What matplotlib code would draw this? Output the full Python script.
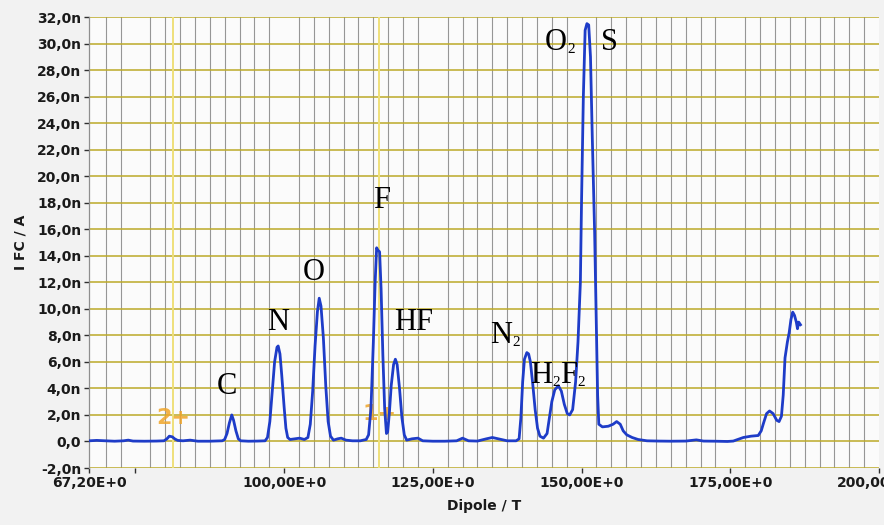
import matplotlib
matplotlib.use("Agg")
import numpy as np
import matplotlib.pyplot as plt

# spectrum (dipole field / T, Faraday cup current / nA)
dipole = [
    67.2, 68.5, 70.0, 71.5, 73.0, 73.8, 74.6, 76.5, 78.5, 79.8, 80.3, 80.7, 81.2, 81.6, 82.1, 83.0, 84.2, 85.5, 87.5, 89.6,
    90.0, 90.4, 90.8, 91.2, 91.5, 91.9, 92.3, 92.7,
    94.0, 95.5, 96.8,
    97.2, 97.6, 98.0, 98.4, 98.8, 99.0, 99.3, 99.6, 100.0, 100.3, 100.6, 101.0,
    101.8, 102.6, 103.4,
    104.0, 104.4, 104.8, 105.2, 105.6, 105.9, 106.2, 106.6, 107.0, 107.4, 107.8, 108.3,
    109.0, 109.6, 110.4, 111.5, 112.8, 113.8,
    114.2, 114.6, 115.0, 115.3, 115.55, 115.8, 116.05, 116.3, 116.6, 116.9, 117.2, 117.4,
    117.7, 118.0, 118.4, 118.7, 119.0, 119.4, 119.8, 120.2, 120.6,
    121.5, 122.5, 123.3, 125.0, 127.0, 129.0, 130.0, 131.0, 132.5, 134.0, 135.0, 136.0, 137.5, 139.0,
    139.5, 139.8, 140.1, 140.4, 140.8, 141.1, 141.4, 141.8, 142.2, 142.6, 143.0, 143.6, 144.2,
    144.6, 145.0, 145.5, 146.1, 146.6, 147.1, 147.6, 148.0, 148.5, 149.0, 149.4, 149.8,
    150.0, 150.3, 150.6, 150.9, 151.2, 151.5, 151.8, 152.2, 152.5, 152.7, 152.9,
    153.5, 154.5, 155.3, 155.9, 156.5, 157.0, 157.6, 158.5, 159.5, 161.0, 163.0, 165.0, 167.5, 169.3, 170.5,
    172.5, 174.5, 175.5, 177.2, 178.5, 179.7,
    180.2, 180.6, 181.1, 181.6, 182.2, 182.8, 183.2, 183.6, 183.9, 184.2, 184.6, 184.9, 185.2, 185.5, 185.8,
    186.1, 186.3, 186.5, 186.8,
]
current = [
    0.05, 0.08, 0.05, 0.02, 0.05, 0.1, 0.03, 0.02, 0.03, 0.05, 0.2, 0.4, 0.35, 0.2, 0.08, 0.05, 0.1, 0.02, 0.02, 0.05,
    0.15, 0.6, 1.4, 2.0, 1.6, 0.8, 0.2, 0.05,
    0.02, 0.03, 0.05,
    0.3, 1.5, 3.8, 6.0, 7.1, 7.2, 6.6, 5.0, 2.6, 1.0, 0.3, 0.15,
    0.2, 0.25, 0.15,
    0.3, 1.3, 3.8, 7.2, 9.8, 10.8, 10.2, 7.8, 4.2, 1.5, 0.4, 0.1,
    0.2, 0.25, 0.1, 0.05, 0.05, 0.15,
    0.5, 2.5, 7.5, 12.0, 14.6, 14.4, 14.3, 11.5, 6.5, 2.5, 0.6, 0.7,
    2.2, 4.2, 5.8, 6.2, 5.8, 4.0, 1.8, 0.5, 0.1,
    0.2, 0.25, 0.05, 0.02, 0.02, 0.05, 0.25, 0.05, 0.03, 0.2, 0.3, 0.2, 0.05, 0.05,
    0.2, 1.8, 4.5, 6.2, 6.7, 6.6, 6.0, 4.3, 2.4, 1.0, 0.4, 0.25, 0.6,
    1.8, 3.0, 3.9, 4.2, 3.8, 2.8, 2.1, 2.0, 2.4, 4.5, 7.5, 12.0,
    18.2, 26.0, 31.0, 31.5, 31.4, 29.0, 23.0, 15.7, 8.5, 3.5, 1.3,
    1.1, 1.15, 1.3, 1.5, 1.3, 0.8, 0.5, 0.3, 0.15, 0.05, 0.03, 0.02, 0.03, 0.12, 0.03,
    0.02, 0.0, 0.03, 0.3, 0.4, 0.45,
    0.8, 1.4, 2.1, 2.3, 2.1, 1.6, 1.5, 1.9, 3.5, 6.3, 7.5, 8.2, 9.2, 9.75, 9.5,
    9.0, 8.5, 9.0, 8.8,
]

y_ticks = [-2, 0, 2, 4, 6, 8, 10, 12, 14, 16, 18, 20, 22, 24, 26, 28, 30, 32]
y_labels = ["-2,0n", "0,0", "2,0n", "4,0n", "6,0n", "8,0n", "10,0n", "12,0n", "14,0n",
            "16,0n", "18,0n", "20,0n", "22,0n", "24,0n", "26,0n", "28,0n", "30,0n", "32,0n"]
x_ticks = [67.2, 75, 100, 125, 150, 175, 200]
x_labels = ["67,20E+0", "", "100,00E+0", "125,00E+0", "150,00E+0", "175,00E+0", "200,00E+0"]

# peak labels split into pieces (digits are subscripts): left x, baseline y
peak_parts = [["C"], ["N"], ["O"], ["F"], ["HF"], ["N", "2"], ["H", "2", "F", "2"], ["O", "2"], ["S"]]
peak_x = [88.7, 97.1, 103.2, 114.9, 118.5, 134.6, 141.3, 143.8, 153.2]
peak_y = [3.6, 8.4, 12.2, 17.6, 8.4, 7.4, 4.4, 29.5, 29.5]

cursor_x = [81.3, 116.0]
cursor_names = ["2+", "1+"]
cursor_y = [1.75, 2.1]

fig = plt.figure(figsize=(8.84, 5.25), dpi=100, facecolor="#f2f2f2")
ax = fig.add_axes([89 / 884, 1 - 468 / 525, 790 / 884, 451 / 525])
ax.set_facecolor("#fbfbfb")

ax.set_xlim(67.2, 200)
ax.set_ylim(-2, 32)

# grid: grey verticals every 2.5, olive horizontals every 2
ax.set_xticks(np.arange(70, 200.1, 2.5), minor=True)
ax.grid(True, which="minor", axis="x", color="#969696", lw=0.8)
ax.grid(True, which="major", axis="y", color="#bcaa28", lw=1.1)
ax.set_axisbelow(True)

for s in ["top", "right", "bottom"]:
    ax.spines[s].set_visible(False)
ax.spines["left"].set_color("#8e8e8e")
ax.spines["left"].set_linewidth(0.9)

ax.set_yticks(y_ticks)
ax.set_yticklabels(y_labels)
ax.set_xticks(x_ticks)
ax.set_xticklabels(x_labels)
ax.tick_params(axis="both", which="major", direction="out", length=3.5, width=1,
               color="#303030", labelsize=10, pad=2, labelcolor="#1a1a1a")
ax.tick_params(axis="x", which="minor", length=0)
for lab in ax.get_xticklabels() + ax.get_yticklabels():
    lab.set_fontweight("bold")

ax.set_xlabel("Dipole / T", fontsize=10, fontweight="bold", color="#1a1a1a", labelpad=7)
ax.set_ylabel("I FC / A", fontsize=10, fontweight="bold", color="#1a1a1a", labelpad=7)

# cursors
for cx, name, cy in zip(cursor_x, cursor_names, cursor_y):
    ax.axvline(cx, color="#efe07a", lw=1.4, zorder=1.5)
    ax.text(cx, cy, name, color="#f0a52a", fontsize=16, fontweight="bold",
            ha="center", va="center", alpha=0.85, zorder=1.6)

ax.plot(dipole, current, color="#1e3cc8", lw=2.0, zorder=3)

serif = ["Liberation Serif", "DejaVu Serif"]
for parts, px, py in zip(peak_parts, peak_x, peak_y):
    main = ax.text(px, py, parts[0], family=serif, fontsize=22, ha="left",
                   va="baseline", color="black", zorder=4)
    prev = main
    for piece in parts[1:]:
        if piece.isdigit():
            prev = ax.annotate(piece, xy=(1, 0), xycoords=(prev, main), xytext=(0.3, 1.0),
                               textcoords="offset points", family=serif, fontsize=11,
                               ha="left", va="bottom", color="black", zorder=4)
        else:
            prev = ax.annotate(piece, xy=(1, 0), xycoords=(prev, main), xytext=(0.3, 0),
                               textcoords="offset points", family=serif, fontsize=22,
                               ha="left", va="bottom", color="black", zorder=4)

fig.savefig("out.png", dpi=100, facecolor=fig.get_facecolor())
